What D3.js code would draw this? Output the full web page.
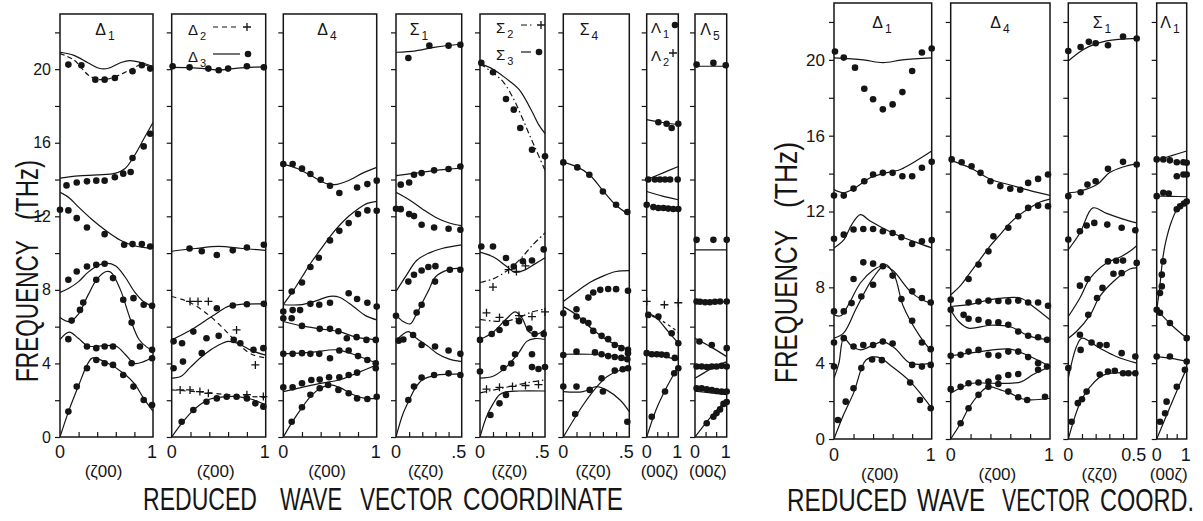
<!DOCTYPE html>
<html><head><meta charset="utf-8">
<script src="https://cdn.jsdelivr.net/npm/d3@7"></script>
<style>body{margin:0;background:#fff}svg{display:block}text{font-family:"Liberation Sans",Arial,sans-serif;fill:#151515}</style>
</head><body><svg id="c" width="1203" height="521"></svg>
<script>
// ---------- shared axis values ----------
const freqDomain = [0, 23];
const freqLabels = [0, 4, 8, 12, 16, 20];
const freqMinor = [0, 2, 4, 6, 8, 10, 12, 14, 16, 18, 20, 22];

// ---------- LEFT FIGURE ----------
// Delta1 (zeta 0 0)
const L_D1_solid = [
 [[0,20.92],[0.15,20.75],[0.3,20.35],[0.42,20.05],[0.52,20.05],[0.65,20.35],[0.75,20.47],[0.88,20.35],[1,20.15]],
 [[0,14.08],[0.2,14.2],[0.4,14.25],[0.6,14.35],[0.7,14.6],[0.8,15.3],[0.9,16.2],[1,17.1]],
 [[0,13.3],[0.1,13.0],[0.2,12.5],[0.35,11.8],[0.5,11.2],[0.65,10.7],[0.8,10.4],[1,10.25]],
 [[0,7.86],[0.1,8.1],[0.2,8.45],[0.3,8.95],[0.4,9.3],[0.5,9.45],[0.6,9.3],[0.7,8.7],[0.8,7.9],[0.9,7.35],[1,7.1]],
 [[0,6.5],[0.1,6.28],[0.2,6.7],[0.3,7.7],[0.4,8.6],[0.5,9.0],[0.55,8.95],[0.65,8.0],[0.75,6.5],[0.85,5.3],[0.93,4.9],[1,4.7]],
 [[0,5.3],[0.1,5.7],[0.2,5.35],[0.3,4.95],[0.45,4.95],[0.6,4.95],[0.7,4.5],[0.8,4.0],[0.9,4.1],[1,4.35]],
 [[0,0],[0.1,1.5],[0.2,2.8],[0.3,4.0],[0.35,4.3],[0.5,4.05],[0.7,3.4],[0.8,2.9],[0.9,2.1],[1,1.4]]
];
const L_D1_dash = [
 [[0,20.85],[0.15,20.5],[0.3,19.7],[0.4,19.45],[0.5,19.45],[0.6,19.6],[0.75,19.95],[0.88,20.25],[1,20.05]]
];
const L_D1_dots = [
 [0.09,20.25],[0.23,20.21],[0.38,19.43],[0.48,19.43],[0.59,19.52],[0.78,19.89],[0.88,20.21],[0.97,20.03],
 [0.07,13.68],[0.18,13.84],[0.29,13.9],[0.39,13.94],[0.48,13.94],[0.59,14.12],[0.68,14.32],[0.76,14.41],[0.78,15.17],[0.9,15.8],[0.97,16.49],
 [0,12.36],[0.09,12.32],[0.18,11.9],[0.29,11.39],[0.48,11.03],[0.69,10.45],[0.78,10.49],[0.88,10.49],[0.97,10.36],
 [0.09,8.55],[0.18,9.0],[0.29,9.27],[0.39,9.36],[0.48,9.42],[0.79,7.55],[0.9,7.19],[0.99,7.13],
 [0.125,6.33],[0.215,6.91],[0.25,7.31],[0.39,8.55],[0.57,8.64],[0.68,7.46],[0.77,6.22],[0.86,4.92],[0.99,4.74],
 [0.09,5.32],[0.29,4.92],[0.39,4.83],[0.48,4.92],[0.57,4.92],[0.77,4.01],[0.99,4.28],
 [0.09,1.38],[0.18,2.74],[0.29,3.74],[0.39,4.19],[0.48,4.01],[0.57,3.92],[0.68,3.37],[0.79,2.74],[0.9,2.01],[0.99,1.74]
];
// Delta2 / Delta3
const L_D23_solid = [
 [[0,20.1],[0.2,20.08],[0.4,20.0],[0.5,19.95],[0.6,20.0],[0.8,20.1],[1,20.12]],
 [[0,10.1],[0.25,10.25],[0.5,10.36],[0.75,10.25],[1,10.15]],
 [[0,5.28],[0.2,5.8],[0.35,6.3],[0.5,6.8],[0.6,7.1],[0.75,7.22],[1,7.24]],
 [[0,3.2],[0.1,3.3],[0.2,3.8],[0.35,4.5],[0.5,5.0],[0.6,5.2],[0.7,5.1],[0.85,4.7],[1,4.45]],
 [[0,0],[0.1,0.7],[0.2,1.3],[0.3,1.75],[0.4,2.05],[0.5,2.15],[0.7,2.2],[0.85,2.05],[1,1.75]]
];
const L_D23_dash = [
 [[0,7.64],[0.2,7.3],[0.4,6.6],[0.55,5.9],[0.7,5.1],[0.85,4.5],[1,4.3]],
 [[0,2.56],[0.3,2.45],[0.6,2.3],[1,2.15]]
];
const L_D23_dots = [
 [0.01,20.16],[0.19,20.1],[0.39,20.03],[0.5,19.94],[0.6,20.03],[0.8,20.16],[0.98,20.1],
 [0.19,10.25],[0.32,10.1],[0.48,9.9],[0.65,10.15],[0.8,10.3],[0.98,10.45],
 [0.48,7.0],[0.65,7.15],[0.8,7.22],[0.98,7.24],
 [0.02,5.2],[0.11,5.1],[0.23,5.73],[0.37,5.37],[0.5,5.5],[0.66,5.28],[0.73,5.1],[0.87,4.74],[0.975,4.83],
 [0.02,3.74],[0.12,4.1],[0.32,4.56],
 [0.106,0.83],[0.23,1.47],[0.37,1.92],[0.48,2.1],[0.585,2.19],[0.69,2.19],[0.8,2.1],[0.89,1.83],[0.975,1.65]
];
const L_D23_plus = [
 [0.195,7.37],[0.28,7.37],[0.39,7.37],[0.69,5.82],[0.89,3.92],
 [0.09,2.56],[0.195,2.56],[0.3,2.47],[0.39,2.38],[0.8,2.3],[0.975,2.2]
];
// Delta4
const L_D4_solid = [
 [[0,14.84],[0.15,14.6],[0.3,14.2],[0.45,13.8],[0.55,13.72],[0.7,13.95],[0.85,14.35],[1,14.66]],
 [[0,7.2],[0.1,7.9],[0.2,8.7],[0.3,9.5],[0.4,10.2],[0.5,10.9],[0.6,11.5],[0.7,12.0],[0.8,12.4],[0.9,12.7],[1,12.81]],
 [[0,7.19],[0.2,7.2],[0.35,7.4],[0.5,7.65],[0.6,7.6],[0.75,7.1],[0.88,6.6],[1,6.37]],
 [[0,6.28],[0.2,6.04],[0.4,5.88],[0.6,5.73],[0.78,5.43],[1,5.28]],
 [[0,4.52],[0.3,4.6],[0.57,4.74],[0.75,4.5],[1,4.01]],
 [[0,2.47],[0.2,2.7],[0.4,2.92],[0.6,3.1],[0.8,3.5],[1,3.92]],
 [[0,0],[0.1,0.85],[0.2,1.6],[0.3,2.25],[0.4,2.65],[0.5,2.83],[0.6,2.7],[0.75,2.3],[0.88,2.1],[1,2.1]]
];
const L_D4_dots = [
 [0,14.84],[0.1,14.84],[0.2,14.59],[0.29,14.3],[0.4,13.99],[0.5,13.66],[0.6,13.27],[0.79,13.57],[0.9,13.75],[1,13.94],
 [0.09,7.91],[0.2,8.4],[0.29,9.24],[0.38,9.75],[0.5,10.69],[0.6,11.21],[0.7,11.63],[0.8,12.12],[0.9,12.32],[1,12.3],
 [0,6.82],[0.1,6.9],[0.18,6.9],[0.29,7.24],[0.385,7.19],[0.5,7.3],[0.7,7.82],[0.79,7.5],[0.9,7.3],[1,7.09],[0,6.46],[0.09,6.46],
 [0.2,6.04],[0.39,5.88],[0.5,5.88],[0.59,5.75],[0.68,5.37],[0.785,5.43],[0.89,5.28],[0.99,5.28],
 [0,4.52],[0.1,4.52],[0.2,4.56],[0.29,4.52],[0.385,4.52],[0.5,4.28],[0.6,4.7],[0.7,4.7],[0.8,4.4],[0.9,4.19],[0.99,4.01],
 [0,2.7],[0.1,2.7],[0.2,2.92],[0.3,3.1],[0.39,3.12],[0.49,3.25],[0.6,3.25],[0.7,3.37],[0.79,3.5],[0.99,3.74],
 [0.09,0.83],[0.2,1.62],[0.29,2.3],[0.39,2.65],[0.48,2.83],[0.59,2.56],[0.7,2.38],[0.79,2.1],[0.9,2.07],[1,2.19]
];
// Sigma1 (zeta zeta 0)
const L_S1_solid = [
 [[0,20.92],[0.15,21.0],[0.3,21.2],[0.5,21.37]],
 [[0,14.21],[0.15,14.35],[0.3,14.5],[0.5,14.62]],
 [[0,13.3],[0.1,12.9],[0.2,12.4],[0.3,11.95],[0.4,11.65],[0.5,11.49]],
 [[0,7.91],[0.08,8.8],[0.157,9.6],[0.25,10.0],[0.35,10.25],[0.5,10.45]],
 [[0,6.64],[0.05,6.3],[0.107,6.15],[0.15,6.6],[0.2,7.3],[0.25,8.0],[0.3,8.7],[0.4,9.1],[0.5,9.18]],
 [[0,5.24],[0.094,5.73],[0.15,5.4],[0.25,4.9],[0.31,4.56],[0.4,4.25],[0.5,4.1]],
 [[0,0],[0.05,1.2],[0.1,2.0],[0.15,2.7],[0.2,3.1],[0.3,3.35],[0.5,3.43]]
];
const L_S1_dots = [
 [0.094,20.61],[0.254,21.28],[0.4,21.28],[0.49,21.33],
 [0.036,13.72],[0.1,13.84],[0.137,14.26],[0.195,14.35],[0.29,14.5],[0.4,14.57],[0.49,14.71],
 [0,12.41],[0.036,12.39],[0.1,12.12],[0.137,12.01],[0.195,11.54],[0.29,11.39],[0.4,11.32],[0.49,11.27],
 [0.094,8.45],[0.137,8.82],[0.195,9.05],[0.246,9.24],[0.3,9.29],
 [0,6.59],[0.157,6.77],[0.195,7.19],[0.297,8.45],[0.41,9.09],[0.49,9.09],
 [0.02,5.24],[0.056,5.3],[0.13,5.55],[0.195,5.0],[0.297,4.92],[0.4,4.7],[0.49,4.52],
 [0.094,2.01],[0.137,2.74],[0.195,3.23],[0.29,3.37],[0.4,3.46],[0.49,3.37]
];
// Sigma2 / Sigma3
const L_S23_solid = [
 [[0,20.3],[0.1,20.0],[0.2,19.5],[0.3,18.9],[0.4,17.7],[0.45,17.0],[0.5,16.5]],
 [[0,10.05],[0.1,9.8],[0.2,9.3],[0.27,8.95],[0.35,9.1],[0.42,9.4],[0.5,9.75]],
 [[0,5.3],[0.1,5.7],[0.2,6.4],[0.27,6.8],[0.32,6.5],[0.38,5.7],[0.44,5.6],[0.5,5.85]],
 [[0,3.2],[0.1,3.3],[0.2,3.8],[0.3,4.6],[0.36,5.2],[0.42,5.35],[0.5,5.3]],
 [[0,0],[0.05,1.1],[0.1,1.8],[0.15,2.3],[0.2,2.45],[0.3,2.5],[0.5,2.5]]
];
const L_S23_dash = [
 [[0,20.3],[0.1,19.8],[0.18,19.3],[0.25,18.5],[0.31,17.6],[0.37,16.6],[0.42,15.8],[0.5,14.5]],
 [[0,8.4],[0.1,8.6],[0.2,9.0],[0.3,9.6],[0.4,10.4],[0.5,11.1]],
 [[0,6.4],[0.1,6.3],[0.2,6.3],[0.3,6.5],[0.4,6.8],[0.5,6.95]],
 [[0,2.4],[0.1,2.55],[0.2,2.7],[0.3,2.85],[0.4,3.0],[0.5,3.1]]
];
const L_S23_dots = [
 [0.01,20.34],[0.1,19.83],[0.2,18.38],[0.26,17.8],[0.31,16.8],[0.4,15.62],[0.5,15.26],
 [0.01,10.36],[0.1,10.36],[0.2,9.73],[0.26,9.27],[0.33,9.55],[0.4,9.6],[0.49,10.2],
 [0,5.28],[0.09,5.6],[0.15,5.82],[0.2,6.2],[0.3,6.3],[0.38,5.9],[0.42,5.6],[0.49,5.6],
 [0,3.56],[0.18,3.75],[0.24,4.0],[0.27,4.5],[0.4,4.5],[0.4,3.8],[0.45,3.7],[0.5,3.8],
 [0.08,1.2],[0.15,1.83],[0.2,2.29]
];
const L_S23_plus = [
 [0.1,8.15],[0.22,9.1],[0.28,9.0],[0.35,9.3],
 [0.05,6.75],[0.15,6.5],[0.3,6.6],[0.4,6.55],[0.5,6.8],
 [0.05,2.6],[0.15,2.7],[0.25,2.75],[0.35,2.8],[0.45,2.85]
];
// Sigma4
const L_S4_solid = [
 [[0,14.93],[0.1,14.7],[0.2,14.25],[0.3,13.4],[0.4,12.6],[0.48,12.2],[0.5,12.18]],
 [[0,7.37],[0.1,7.9],[0.2,8.4],[0.3,8.75],[0.4,9.0],[0.5,9.05]],
 [[0,7.09],[0.1,6.64],[0.227,5.82],[0.35,5.19],[0.5,4.74]],
 [[0,4.5],[0.2,4.5],[0.33,4.45],[0.42,4.35],[0.5,4.28]],
 [[0,0],[0.15,1.74],[0.25,2.7],[0.33,3.28],[0.42,3.6],[0.5,3.74]],
 [[0,2.47],[0.15,2.47],[0.25,2.74],[0.33,2.55],[0.43,2.01],[0.5,1.38]]
];
const L_S4_dots = [
 [0,14.93],[0.106,14.66],[0.197,14.26],[0.3,13.35],[0.4,12.63],[0.485,12.23],
 [0.19,7.58],[0.227,7.86],[0.28,8.0],[0.34,8.05],[0.4,8.04],[0.49,7.95],
 [0,6.73],[0.1,6.95],[0.1,6.55],[0.15,6.33],[0.19,6.2],[0.227,5.77],[0.29,5.5],[0.34,5.32],[0.39,5.0],[0.44,4.83],[0.49,4.74],
 [0,4.46],[0.1,4.64],[0.24,4.6],[0.29,4.5],[0.34,4.4],[0.39,4.35],[0.44,4.3],[0.485,4.23],[0.49,4.55],
 [0.09,1.25],[0.2,2.56],[0.29,3.19],[0.39,3.61],[0.45,3.68],[0.49,3.74],
 [0,2.74],[0.1,2.74],[0.3,2.47],[0.485,0.83]
];
// Lambda1 / Lambda2 (0 0 zeta)
const L_L12_solid = [
 [[0,17.26],[0.5,17.1],[1,16.98]],
 [[0,13.99],[0.5,14.35],[1,14.71]],
 [[0,13.35],[0.5,13.1],[1,12.9]],
 [[0,6.75],[0.3,6.5],[0.6,5.9],[1,5.1]],
 [[0,4.56],[0.5,4.4],[1,4.19]],
 [[0,0],[0.3,1.5],[0.6,2.6],[1,3.83]]
];
const L_L12_dash = [
 [[0,6.7],[0.5,6.3],[1,5.7]]
];
const L_L12_dots = [
 [0.37,17.11],[0.63,17.03],[0.79,16.8],[1,17.03],
 [0.05,14.0],[0.26,14.0],[0.42,14.0],[0.58,14.0],[0.74,14.0],[0.98,14.0],
 [0,12.63],[0.21,12.5],[0.37,12.45],[0.53,12.45],[0.68,12.42],[0.84,12.4],[1,12.4],
 [0.05,6.64],[0.37,6.55],[0.79,5.64],[1,5.1],
 [0,4.56],[0.16,4.5],[0.32,4.5],[0.47,4.48],[0.63,4.45],[0.89,4.3],
 [0.16,1.1],[0.58,2.47],[0.87,3.47],[1,3.74]
];
const L_L12_plus = [[0,7.37],[0.56,7.19],[1,7.3]];
// Lambda5
const L_L5_solid = [
 [[0,20.16],[1,20.16]],
 [[0,10.18],[1,10.18]],
 [[0,7.35],[1,7.35]],
 [[0,5.37],[0.5,4.9],[1,4.37]],
 [[0,3.2],[0.3,3.5],[0.6,3.8],[1,4.1]],
 [[0,3.9],[0.5,3.85],[1,3.95]],
 [[0,2.5],[0.5,2.4],[1,2.3]],
 [[0,0],[0.5,1.1],[1,2.01]]
];
const L_L5_dots = [
 [0.05,20.25],[0.58,20.34],[0.97,20.21],
 [0.05,10.72],[0.58,10.72],[1,10.72],
 [0.05,7.37],[0.16,7.35],[0.32,7.33],[0.47,7.33],[0.63,7.35],[0.79,7.37],[1,7.37],
 [0.14,5.19],[0.53,5.0],[1,4.83],
 [0.05,3.83],[0.21,3.83],[0.37,3.8],[0.53,3.83],[0.68,3.83],[0.84,3.87],[1,3.83],
 [0.05,2.65],[0.21,2.65],[0.37,2.6],[0.53,2.55],[0.68,2.5],[0.84,2.47],[1,2.47],
 [0.37,0.75],[0.58,1.1],[0.68,1.3],[0.79,1.5],[0.9,1.8],[1,1.9]
];

// ---------- RIGHT FIGURE ----------
const R_D1_solid = [
 [[0,20.1],[0.3,20.0],[0.5,19.85],[0.7,20.0],[1,20.1]],
 [[0,13.16],[0.1,12.99],[0.2,13.2],[0.37,13.78],[0.5,14.0],[0.68,14.22],[0.85,14.7],[1,15.19]],
 [[0,10.08],[0.1,10.5],[0.18,11.3],[0.27,11.84],[0.37,11.5],[0.6,10.87],[0.8,10.45],[1,10.08]],
 [[0,6.55],[0.07,6.5],[0.15,7.1],[0.27,8.23],[0.4,8.9],[0.5,9.14],[0.6,8.9],[0.78,7.79],[0.9,7.35],[1,7.17]],
 [[0,5.32],[0.1,5.6],[0.23,6.91],[0.4,8.5],[0.53,9.2],[0.62,8.6],[0.71,6.99],[0.88,5.41],[1,4.61]],
 [[0,3.21],[0.05,4.0],[0.1,5.32],[0.18,4.9],[0.27,4.7],[0.38,4.9],[0.5,5.14],[0.62,4.8],[0.78,4.0],[1,4.0]],
 [[0,0],[0.1,1.3],[0.2,2.42],[0.33,4.18],[0.45,4.32],[0.6,3.8],[0.78,3.03],[0.9,2.3],[1,1.62]]
];
const R_D1_dots = [
 [0.01,20.44],[0.1,20.12],[0.215,19.59],[0.31,18.48],[0.4,17.92],[0.5,17.39],[0.6,17.65],[0.7,18.3],[0.8,19.41],[0.9,20.39],[1,20.6],
 [0,12.84],[0.1,12.84],[0.2,13.21],[0.31,13.6],[0.4,13.95],[0.5,14.04],[0.6,14.04],[0.7,13.86],[0.8,13.86],[0.9,14.31],[1,14.62],
 [0,10.56],[0.1,10.78],[0.2,11.05],[0.3,11.08],[0.4,11.08],[0.5,10.96],[0.6,10.87],[0.69,10.64],[0.8,10.29],[0.9,10.43],[1,10.49],
 [0,6.73],[0.2,8.44],[0.3,9.32],[0.4,9.25],[0.5,9.11],[0.8,7.79],[0.9,7.44],[0.99,7.2],
 [0.1,6.73],[0.18,7.17],[0.28,7.52],[0.4,8.14],[0.6,8.62],[0.69,7.38],[0.8,6.24],[0.9,5.09],[0.99,4.74],
 [0,5.09],[0,3.82],[0.1,5.32],[0.2,4.88],[0.3,4.96],[0.4,4.96],[0.5,5.14],[0.6,5.04],[0.8,3.91],[0.9,3.82],[0.99,3.91],
 [0.04,1.0],[0.12,1.97],[0.2,2.68],[0.28,3.74],[0.39,4.19],[0.49,4.16],[0.78,2.98],[0.88,2.06],[0.99,1.62]
];
const R_D4_solid = [
 [[0,14.7],[0.2,14.3],[0.4,13.7],[0.6,13.4],[0.8,13.1],[1,12.85]],
 [[0,7.6],[0.1,8.1],[0.2,8.8],[0.3,9.5],[0.4,10.2],[0.5,10.8],[0.6,11.4],[0.7,11.85],[0.8,12.2],[0.9,12.5],[1,12.65]],
 [[0,6.99],[0.2,7.1],[0.4,7.35],[0.7,7.44],[0.83,6.99],[1,6.29]],
 [[0,6.82],[0.08,6.2],[0.18,5.85],[0.4,6.0],[0.6,5.92],[0.8,5.41],[1,5.23]],
 [[0,4.39],[0.28,4.6],[0.6,4.74],[0.8,4.35],[1,3.82]],
 [[0,2.42],[0.22,2.94],[0.4,2.94],[0.7,3.0],[0.83,3.4],[1,3.82]],
 [[0,0],[0.1,0.83],[0.18,1.62],[0.28,2.33],[0.38,2.76],[0.5,2.59],[0.6,2.42],[0.7,2.15],[0.8,2.06],[1,2.15]]
];
const R_D4_dots = [
 [0.01,14.75],[0.11,14.6],[0.21,14.39],[0.3,14.04],[0.4,13.6],[0.5,13.34],[0.6,13.2],[0.7,13.15],[0.78,13.51],[0.88,13.72],[0.98,13.95],
 [0.18,8.44],[0.28,9.2],[0.38,9.9],[0.43,10.69],[0.58,11.14],[0.68,11.75],[0.78,12.19],[0.88,12.31],[0.98,12.28],
 [0,7.35],[0,6.82],[0.18,7.2],[0.28,7.25],[0.38,7.3],[0.48,7.28],[0.58,7.26],[0.68,7.3],[0.78,7.2],[0.88,7.2],[0.98,7.03],
 [0.13,6.55],[0.18,6.34],[0.28,6.29],[0.38,6.15],[0.48,6.15],[0.58,6.03],[0.68,5.67],[0.78,5.45],[0.88,5.37],[0.97,5.23],
 [0,4.39],[0.1,4.44],[0.18,4.61],[0.28,4.7],[0.38,4.44],[0.48,4.4],[0.58,4.61],[0.68,4.61],[0.78,4.32],[0.88,4.0],[0.97,3.82],
 [0,2.63],[0.1,2.75],[0.18,2.94],[0.28,2.98],[0.38,3.03],[0.48,3.24],[0.58,3.38],[0.68,3.43],[0.88,3.65],
 [0.1,0.83],[0.18,1.62],[0.28,2.33],[0.38,2.76],[0.48,2.9],[0.58,2.5],[0.68,2.2],[0.77,2.06],[0.95,2.23]
];
const R_S1_solid = [
 [[0,19.94],[0.08,20.4],[0.15,20.7],[0.28,21.0],[0.5,21.13]],
 [[0,12.99],[0.085,13.07],[0.21,13.42],[0.3,14.04],[0.4,14.35],[0.5,14.53]],
 [[0,9.99],[0.085,10.87],[0.18,12.19],[0.28,11.9],[0.4,11.6],[0.5,11.4]],
 [[0,6.46],[0.085,7.44],[0.16,8.49],[0.28,9.29],[0.38,9.6],[0.45,9.9],[0.5,10.2]],
 [[0,5.32],[0.06,5.67],[0.16,6.55],[0.23,7.52],[0.33,8.31],[0.45,8.97],[0.5,9.03]],
 [[0,3.21],[0.06,4.88],[0.1,5.32],[0.23,4.79],[0.35,4.35],[0.5,4.0]],
 [[0,0],[0.085,1.89],[0.16,2.76],[0.26,3.38],[0.5,3.47]]
];
const R_S1_dots = [
 [0,20.47],[0.09,20.68],[0.15,20.95],[0.2,20.88],[0.29,20.77],[0.4,21.23],[0.5,21.13],
 [0,12.81],[0.09,13.02],[0.14,13.42],[0.2,13.6],[0.29,14.25],[0.4,14.62],[0.5,14.48],
 [0,10.52],[0.085,10.96],[0.134,11.26],[0.19,11.4],[0.285,11.31],[0.39,11.14],[0.49,11.01],
 [0.085,8.09],[0.14,8.44],[0.29,9.37],[0.35,9.4],[0.4,9.41],[0.5,9.29],
 [0.146,6.55],[0.21,7.44],[0.25,7.97],[0.33,8.72],[0.39,8.75],
 [0,3.74],[0.085,5.5],[0.09,4.7],[0.17,5.09],[0.23,4.96],[0.28,4.96],[0.39,4.53],[0.49,4.35],
 [0.024,0.91],[0.07,1.89],[0.1,2.1],[0.134,2.5],[0.23,3.4],[0.29,3.56],[0.34,3.6],[0.4,3.47],[0.44,3.47],[0.49,3.47]
];
const R_L1_solid = [
 [[0,14.71],[0.5,14.95],[1,15.19]],
 [[0,12.81],[0.5,12.8],[1,12.78]],
 [[0,6.8],[0.1,8.0],[0.2,9.5],[0.3,10.4],[0.5,11.5],[0.7,12.15],[1,12.46]],
 [[0,6.82],[0.5,6.0],[1,5.32]],
 [[0,4.35],[0.5,4.25],[1,4.09]],
 [[0,0],[0.5,1.9],[1,3.74]]
];
const R_L1_dots = [
 [0,14.75],[0.22,14.75],[0.44,14.7],[0.67,14.6],[0.89,14.6],[1,14.57],
 [0.67,13.86],[0.89,13.95],[1,13.95],
 [0,12.81],[0.22,12.99],[0.4,12.95],
 [0.67,12.12],[0.78,12.28],[0.91,12.42],[1,12.53],
 [0.22,9.37],[0.17,8.67],[0.17,8.05],[0.11,7.7],
 [0,6.82],[0.11,6.66],[0.44,6.12],[1,5.32],
 [0,4.35],[0.44,4.35],[1,4.09],
 [0.11,0.91],[0.28,1.36],[0.33,1.97],[0.67,2.76],[0.94,3.65]
];

// axis title words
const xTitleL = ['REDUCED', 'WAVE', 'VECTOR', 'COORDINATE'];
const xTitleR = ['REDUCED', 'WAVE', 'VECTOR', 'COORD.'];
const yTitle = ['FREQUENCY', '(THz)'];

// ---------- layout (positions / styles) ----------
const figL = {top:14, bot:437, tickFont:16, xlabY:458, subY:477};
const figR = {top:3, bot:439, tickFont:17, xlabY:461, subY:480};
const panels = [
 {f:figL, x0:60, x1:153, dom:[0,1], xt:[0.2,0.4,0.6,0.8], xl:['0','1'], sub:'(ζ00)', tt:['Δ','1'], tx:105, labels:true, solid:L_D1_solid, dash:L_D1_dash, dots:L_D1_dots},
 {f:figL, x0:171.7, x1:265.7, dom:[0,1], xt:[0.2,0.4,0.6,0.8], xl:['0','1'], sub:'(ζ00)', solid:L_D23_solid, dash:L_D23_dash, dots:L_D23_dots, plus:L_D23_plus, dashStyle:'5,4'},
 {f:figL, x0:283.3, x1:376.7, dom:[0,1], xt:[0.2,0.4,0.6,0.8], xl:['0','1'], sub:'(ζ00)', tt:['Δ','4'], tx:327, solid:L_D4_solid, dots:L_D4_dots},
 {f:figL, x0:396, x1:461.7, dom:[0,0.5], xt:[0.1,0.2,0.3,0.4], xl:['0','.5'], sub:'(ζζ0)', tt:['Σ','1'], tx:419, solid:L_S1_solid, dots:L_S1_dots},
 {f:figL, x0:480, x1:545, dom:[0,0.5], xt:[0.1,0.2,0.3,0.4], xl:['0','.5'], sub:'(ζζ0)', solid:L_S23_solid, dash:L_S23_dash, dots:L_S23_dots, plus:L_S23_plus, dashStyle:'6,3,1.5,3'},
 {f:figL, x0:563.3, x1:629.3, dom:[0,0.5], xt:[0.1,0.2,0.3,0.4], xl:['0','.5'], sub:'(ζζ0)', tt:['Σ','4'], tx:589, solid:L_S4_solid, dots:L_S4_dots},
 {f:figL, x0:646.7, x1:678.3, dom:[0,1], xt:[1/3,2/3], xl:['0','1'], sub:'(00ζ)', solid:L_L12_solid, dash:L_L12_dash, dots:L_L12_dots, plus:L_L12_plus, dashStyle:'3,3'},
 {f:figL, x0:695, x1:726.7, dom:[0,1], xt:[1/3,2/3], xl:['0','1'], sub:'(00ζ)', tt:['Λ','5'], tx:710, solid:L_L5_solid, dots:L_L5_dots},
 {f:figR, x0:834, x1:931.7, dom:[0,1], xt:[0.2,0.4,0.6,0.8], xl:['0','1'], sub:'(ζ00)', tt:['Δ','1'], tx:882, labels:true, solid:R_D1_solid, dots:R_D1_dots},
 {f:figR, x0:950.7, x1:1050, dom:[0,1], xt:[0.2,0.4,0.6,0.8], xl:['0','1'], sub:'(ζ00)', tt:['Δ','4'], tx:1000, solid:R_D4_solid, dots:R_D4_dots},
 {f:figR, x0:1068.3, x1:1136.7, dom:[0,0.5], xt:[0.1,0.2,0.3,0.4], xl:['0','0.5'], sub:'(ζζ0)', tt:['Σ','1'], tx:1102, solid:R_S1_solid, dots:R_S1_dots},
 {f:figR, x0:1156.7, x1:1186.7, dom:[0,1], xt:[1/3,2/3], xl:['0','1'], sub:'(00ζ)', tt:['Λ','1'], tx:1170, solid:R_L1_solid, dots:R_L1_dots}
];

const svg = d3.select('#c');
const ink = '#151515';
panels.forEach((p, i) => {
  const x = d3.scaleLinear().domain(p.dom).range([p.x0, p.x1]);
  const y = d3.scaleLinear().domain(freqDomain).range([p.f.bot, p.f.top]);
  const g = svg.append('g');
  const cid = 'clip' + i;
  svg.append('clipPath').attr('id', cid).append('rect')
    .attr('x', p.x0).attr('y', p.f.top).attr('width', p.x1 - p.x0).attr('height', p.f.bot - p.f.top);
  const ya = d3.axisLeft(y).tickValues(freqMinor).tickSize(5).tickFormat(d => (p.labels && freqLabels.includes(d)) ? d : '');
  const yg = g.append('g').attr('transform', `translate(${p.x0},0)`).call(ya);
  yg.select('.domain').remove();
  yg.selectAll('line').attr('stroke', ink).attr('stroke-width', 1.2);
  yg.selectAll('text').attr('font-size', p.f.tickFont).attr('fill', ink).attr('dx', '-1').attr('font-family', '"Liberation Sans",Arial,sans-serif');
  const xa = d3.axisBottom(x).tickValues(p.xt).tickSize(-5).tickFormat('');
  const xg = g.append('g').attr('transform', `translate(0,${p.f.bot})`).call(xa);
  xg.select('.domain').remove();
  xg.selectAll('line').attr('stroke', ink).attr('stroke-width', 1.2);
  g.append('rect').attr('x', p.x0).attr('y', p.f.top).attr('width', p.x1 - p.x0).attr('height', p.f.bot - p.f.top)
    .attr('fill', 'none').attr('stroke', ink).attr('stroke-width', 1.5);
  g.append('text').attr('x', x(p.dom[0])).attr('y', p.f.xlabY).attr('text-anchor', 'middle').attr('font-size', 18).text(p.xl[0]);
  g.append('text').attr('x', x(p.dom[1]) - (p.xl[1].length > 1 ? 3 : 1)).attr('y', p.f.xlabY).attr('text-anchor', 'middle').attr('font-size', 18).text(p.xl[1]);
  g.append('text').attr('x', (p.x0 + p.x1) / 2 - 3).attr('y', p.f.subY).attr('text-anchor', 'middle').attr('font-size', 17).text(p.sub);
  if (p.tt) {
    const t = g.append('text').attr('x', p.tx).attr('y', p.f.top + (p.f === figL ? 21 : 25)).attr('text-anchor', 'middle').attr('font-size', 16);
    t.append('tspan').text(p.tt[0]);
    t.append('tspan').attr('dy', 5).attr('dx', 2).attr('font-size', 12).text(p.tt[1]);
  }
  const line = d3.line().x(d => x(d[0])).y(d => y(d[1])).curve(d3.curveCatmullRom.alpha(0.5));
  const cg = g.append('g').attr('clip-path', `url(#${cid})`);
  (p.solid || []).forEach(c => cg.append('path').attr('d', line(c)).attr('fill', 'none').attr('stroke', ink).attr('stroke-width', 1.2));
  (p.dash || []).forEach(c => cg.append('path').attr('d', line(c)).attr('fill', 'none').attr('stroke', ink).attr('stroke-width', 1.2).attr('stroke-dasharray', p.dashStyle || '5,3'));
  g.selectAll(null).data(p.dots || []).join('circle').attr('cx', d => x(d[0])).attr('cy', d => y(d[1])).attr('r', 3.3).attr('fill', ink);
  g.selectAll(null).data(p.plus || []).join('path')
    .attr('d', d => `M${x(d[0]) - 4},${y(d[1])}h8M${x(d[0])},${y(d[1]) - 4}v8`).attr('stroke', ink).attr('stroke-width', 1.3);
});

function legendRow(lx, ly, sym, sub, dash, marker, mx) {
  const t = svg.append('text').attr('x', lx).attr('y', ly).attr('font-size', 15);
  t.append('tspan').text(sym);
  t.append('tspan').attr('dy', 5).attr('dx', 2).attr('font-size', 11).text(sub);
  if (dash !== null) {
    svg.append('line').attr('x1', lx + 25).attr('x2', mx - 8).attr('y1', ly - 8).attr('y2', ly - 8)
      .attr('stroke', ink).attr('stroke-width', 1.2).attr('stroke-dasharray', dash || null);
  }
  if (marker === 'dot') svg.append('circle').attr('cx', mx).attr('cy', ly - 8).attr('r', 3.3).attr('fill', ink);
  else svg.append('path').attr('d', `M${mx - 4},${ly - 8}h8M${mx},${ly - 12}v8`).attr('stroke', ink).attr('stroke-width', 1.3);
}
legendRow(188, 35, 'Δ', '2', '5,4', 'plus', 247);
legendRow(188, 62, 'Δ', '3', '', 'dot', 248);
legendRow(496, 33, 'Σ', '2', '6,3,1.5,3', 'plus', 541);
legendRow(496, 60, 'Σ', '3', '', 'dot', 539);
legendRow(651, 33, 'Λ', '1', null, 'dot', 675);
legendRow(651, 61, 'Λ', '2', null, 'plus', 673);

// axis titles: each word is drawn at a natural size then horizontally scaled to its measured span
function word(txt, x0, x1, yb, size, rot) {
  const t = svg.append('text').attr('font-size', size).text(txt);
  const w = t.node().getComputedTextLength();
  const k = Math.abs(x1 - x0) / w;
  if (rot) t.attr('transform', `translate(${yb},${x0}) rotate(-90) scale(${k},1)`);
  else t.attr('transform', `translate(${x0},${yb}) scale(${k},1)`);
}
const spanL = [[143,257],[280,342],[360,453],[463,623]];
const spanR = [[787,907],[917,985],[1002,1090],[1100,1194]];
xTitleL.forEach((w, i) => word(w, spanL[i][0], spanL[i][1], 510, 31));
xTitleR.forEach((w, i) => word(w, spanR[i][0], spanR[i][1], 511, 31));
word(yTitle[0], 382, 240, 38, 31, true);
word(yTitle[1], 220, 160, 38, 31, true);
word(yTitle[0], 383, 230, 797, 31, true);
word(yTitle[1], 208, 142, 797, 31, true);
</script></body></html>
